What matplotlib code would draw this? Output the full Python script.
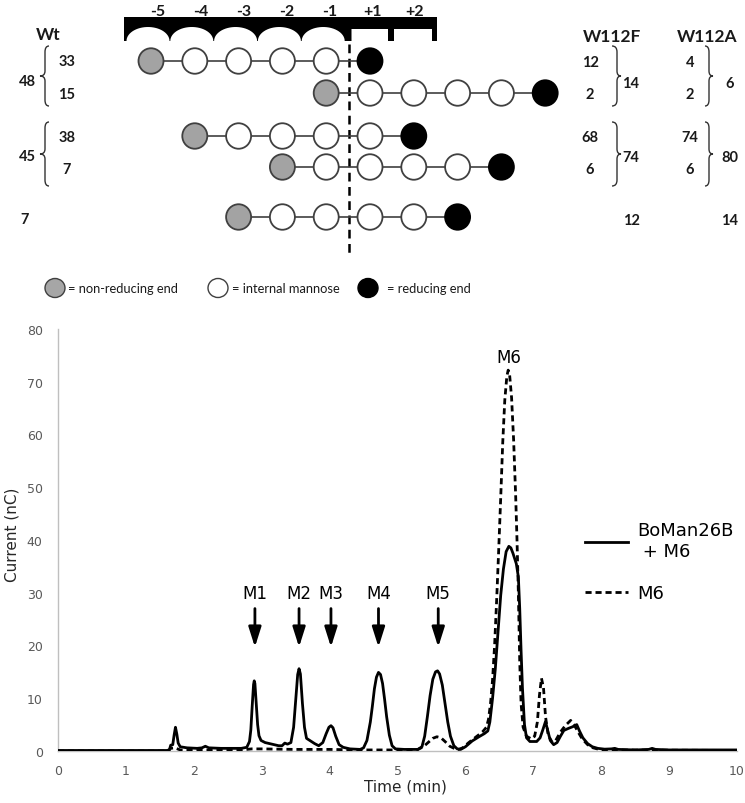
import numpy as np
import matplotlib
matplotlib.use("Agg")
import matplotlib.pyplot as plt
from matplotlib.patches import Ellipse, Polygon, PathPatch
from matplotlib.path import Path

# ------------------------------------------------------------------ data
# BoMan26B + M6 (solid) chromatogram
time_mix = [0.00, 1.60, 1.64, 1.66, 1.69, 1.71, 1.73, 1.75, 1.77, 1.80,
            1.90, 2.05, 2.12, 2.17, 2.22, 2.40, 2.70, 2.78, 2.82, 2.84,
            2.86, 2.88, 2.89, 2.90, 2.92, 2.94, 2.96, 2.99, 3.05, 3.15,
            3.25, 3.30, 3.34, 3.38, 3.43, 3.47, 3.50, 3.53, 3.55, 3.57,
            3.60, 3.63, 3.66, 3.72, 3.78, 3.84, 3.90, 3.95, 3.99, 4.02,
            4.05, 4.09, 4.14, 4.20, 4.30, 4.45, 4.50, 4.55, 4.60, 4.63,
            4.66, 4.69, 4.72, 4.75, 4.78, 4.81, 4.84, 4.88, 4.92, 4.97,
            5.10, 5.30, 5.36, 5.40, 5.44, 5.48, 5.52, 5.56, 5.59, 5.62,
            5.66, 5.70, 5.74, 5.78, 5.83, 5.88, 5.93, 6.00, 6.10, 6.20,
            6.28, 6.33, 6.36, 6.40, 6.44, 6.48, 6.52, 6.56, 6.60, 6.64,
            6.67, 6.70, 6.75, 6.78, 6.80, 6.82, 6.84, 6.87, 6.90, 6.95,
            7.05, 7.10, 7.14, 7.18, 7.21, 7.25, 7.30, 7.35, 7.40, 7.45,
            7.52, 7.58, 7.64, 7.68, 7.73, 7.80, 7.87, 7.95, 8.05, 8.15,
            8.20, 8.25, 8.50, 8.70, 8.75, 8.80, 9.00, 9.50, 10.00]
current_mix = [0.1, 0.1, 0.2, 1.1, 1.2, 3.0, 4.5, 3.2, 1.5, 0.8,
               0.6, 0.5, 0.6, 0.9, 0.6, 0.5, 0.5, 0.7, 1.8, 4.0,
               8.5, 12.6, 13.3, 12.8, 9.0, 5.0, 2.9, 2.0, 1.6, 1.3,
               1.0, 1.0, 1.5, 1.3, 1.6, 4.5, 9.5, 14.5, 15.6, 14.6,
               9.0, 4.5, 2.4, 1.9, 1.4, 1.0, 1.6, 3.3, 4.5, 4.8,
               4.4, 2.8, 1.2, 0.7, 0.4, 0.3, 0.6, 2.0, 5.5, 8.5,
               11.8, 14.0, 14.9, 14.5, 12.8, 9.8, 6.5, 3.0, 1.0, 0.4,
               0.3, 0.3, 0.8, 2.8, 6.5, 10.5, 13.6, 15.0, 15.2, 14.6,
               12.5, 9.0, 5.5, 2.8, 1.0, 0.4, 0.3, 0.8, 1.9, 2.7,
               3.3, 3.8, 5.5, 10.0, 15.5, 22.5, 29.5, 34.5, 37.8, 38.8,
               38.5, 37.5, 35.5, 33.0, 27.0, 19.0, 12.0, 5.0, 2.5, 1.8,
               1.8, 2.5, 4.0, 5.6, 4.0, 2.0, 1.2, 1.6, 2.8, 3.9,
               4.3, 4.6, 5.0, 3.8, 2.5, 1.4, 0.8, 0.5, 0.35, 0.4,
               0.5, 0.3, 0.2, 0.3, 0.5, 0.3, 0.2, 0.2, 0.2]

# M6 standard (dashed) chromatogram
time_m6 = [0.00, 1.62, 1.66, 1.72, 1.80, 2.00, 2.70, 2.85, 3.00, 3.50,
           4.00, 4.50, 5.00, 5.30, 5.38, 5.45, 5.52, 5.58, 5.64, 5.70,
           5.77, 5.85, 5.90, 5.96, 6.05, 6.15, 6.25, 6.31, 6.34, 6.37,
           6.40, 6.43, 6.46, 6.49, 6.52, 6.55, 6.58, 6.61, 6.63, 6.65,
           6.68, 6.71, 6.74, 6.76, 6.78, 6.80, 6.82, 6.85, 6.90, 6.97,
           7.02, 7.06, 7.09, 7.12, 7.15, 7.18, 7.22, 7.28, 7.33, 7.40,
           7.47, 7.55, 7.60, 7.66, 7.72, 7.80, 7.88, 7.97, 8.10, 10.00]
current_m6 = [0.0, 0.0, 0.5, 0.6, 0.2, 0.1, 0.2, 0.4, 0.4, 0.3,
              0.3, 0.2, 0.2, 0.3, 0.8, 1.6, 2.4, 2.7, 2.5, 1.8,
              0.9, 0.4, 0.3, 0.6, 1.6, 2.6, 3.6, 4.5, 6.0, 9.0,
              13.5, 20.0, 28.5, 38.0, 48.0, 58.5, 66.5, 71.0, 72.2, 71.5,
              67.0, 59.0, 48.5, 40.0, 30.0, 17.0, 9.0, 4.5, 2.8, 2.3,
              2.8, 5.5, 10.5, 13.8, 12.0, 6.5, 3.0, 1.6, 2.0, 3.6,
              4.8, 5.8, 5.0, 3.6, 2.3, 1.2, 0.6, 0.3, 0.2, 0.1]

peak_labels = ["M1", "M2", "M3", "M4", "M5"]
peak_times = [2.90, 3.55, 4.02, 4.72, 5.60]
m6_label = "M6"
m6_time = 6.64
series_labels = ["BoMan26B\n + M6", "M6"]
x_ticks = list(range(0, 11))
y_ticks = list(range(0, 81, 10))

# binding-mode diagram
subsite_labels = ["-5", "-4", "-3", "-2", "-1", "+1", "+2"]
mode_start = [0, 4, 1, 3, 2]       # slot of the non-reducing end
mode_length = [6, 6, 6, 6, 6]      # M6: six mannose units
wt_counts = ["33", "15", "38", "7"]
wt_groups = ["48", "45"]
wt_single = "7"
w112f_counts = ["12", "2", "68", "6"]
w112f_groups = ["14", "74"]
w112f_single = "12"
w112a_counts = ["4", "2", "74", "6"]
w112a_groups = ["6", "80"]
w112a_single = "14"
variant_names = ["Wt", "W112F", "W112A"]
legend_texts = ["= non-reducing end", "= internal mannose", "= reducing end"]

# ------------------------------------------------------------------ figure
W, H = 745, 804
fig = plt.figure(figsize=(W / 100, H / 100), dpi=100)
fig.patch.set_facecolor("white")

# ---------------- chromatogram axes
ax = fig.add_axes([58 / W, (H - 752) / H, (737 - 58) / W, (752 - 330) / H])
ax.set_xlim(0, 10)
ax.set_ylim(0, 80)
for s in ("top", "right"):
    ax.spines[s].set_visible(False)
for s in ("left", "bottom"):
    ax.spines[s].set_color("#bfbfbf")
    ax.spines[s].set_linewidth(1.0)
ax.set_xticks(x_ticks)
ax.set_yticks(y_ticks)
ax.tick_params(axis="both", length=0, labelsize=9, labelcolor="#595959")
ax.tick_params(axis="x", pad=9.5)
ax.tick_params(axis="y", pad=11)

l1, = ax.plot(time_mix, current_mix, color="black", lw=2.0,
              solid_joinstyle="round", zorder=4)
l2, = ax.plot(time_m6, current_m6, color="black", lw=2.0,
              ls=(0, (2.2, 1.4)), zorder=3)

ax.set_xlabel("Time (min)", fontsize=11, color="#262626")
ax.set_ylabel("Current (nC)", fontsize=11, color="#262626")
ax.xaxis.set_label_coords(0.511, -0.066)
ax.yaxis.set_label_coords(-0.057, 0.514)

for lab, t in zip(peak_labels, peak_times):
    ax.annotate("", xy=(t, 19.7), xytext=(t, 27.0),
                arrowprops=dict(arrowstyle="-|>,head_length=1.2,head_width=0.38",
                                color="black", lw=2.0, shrinkA=0, shrinkB=0,
                                mutation_scale=10))
    ax.text(t, 29.9, lab, ha="center", va="center", fontsize=12, color="black")
ax.text(m6_time, 74.6, m6_label, ha="center", va="center", fontsize=12,
        color="black")

leg = ax.legend([l1, l2], series_labels, loc="upper left",
                bbox_to_anchor=(585 / W, (H - 522.5) / H),
                bbox_transform=fig.transFigure, frameon=False, fontsize=13,
                handlelength=2.38, handletextpad=0.5, labelspacing=1.33,
                borderpad=0, borderaxespad=0)

# ---------------- diagram overlay (pixel coordinates)
ov = fig.add_axes([0, 0, 1, 1])
ov.set_xlim(0, W)
ov.set_ylim(H, 0)
ov.axis("off")
ov.patch.set_alpha(0)

BOLD = dict(family=["Lato", "DejaVu Sans"], fontweight="bold", color="#1a1a1a")
REG = dict(family=["Lato", "DejaVu Sans"], color="#1a1a1a")

slot_x0, slot_dx = 151.0, 43.8
row_y = [62, 94, 137, 168, 218]

# subsite bar
bar_top, bar_bot, arc_top = 18, 42, 28
verts = [(124, bar_top), (437, bar_top), (437, bar_bot), (432, bar_bot),
         (432, 30), (394, 30), (394, bar_bot), (388, bar_bot), (388, 30),
         (351.5, 30), (351.5, bar_bot)]
arc_centres = [slot_x0 + k * slot_dx - 3 for k in range(5)][::-1]
th = np.linspace(0, np.pi, 30)
for c in arc_centres:
    xs = c + 21.5 * np.cos(th)
    ys = bar_bot - (bar_bot - arc_top) * np.sin(th)
    verts += list(zip(xs, ys))
verts += [(124, bar_bot)]
ov.add_patch(Polygon(verts, closed=True, facecolor="black", edgecolor="none"))

for i, lab in enumerate(subsite_labels):
    ov.text(158 + 42.8 * i, 12, lab, ha="center", va="center", fontsize=11.5,
            **BOLD)

# dashed cleavage line
ov.plot([348.5, 348.5], [45, 258], color="black", lw=1.8,
        ls=(0, (3.5, 2.2)), zorder=1)

# binding modes
for r, (st, n) in enumerate(zip(mode_start, mode_length)):
    y = row_y[r]
    xs = [slot_x0 + (st + k) * slot_dx for k in range(n)]
    ov.plot([xs[0], xs[-1]], [y, y], color="#404040", lw=1.2, zorder=2)
    for k, x in enumerate(xs):
        if k == 0:
            fc, ec = "#a3a3a3", "#404040"
        elif k == n - 1:
            fc, ec = "black", "black"
        else:
            fc, ec = "white", "#404040"
        ov.add_patch(Ellipse((x, y), 25, 25.5, facecolor=fc, edgecolor=ec,
                             lw=1.3, zorder=3))


def brace(x_end, x_stem, x_tip, y0, y1):
    ym = (y0 + y1) / 2
    codes = [Path.MOVETO, Path.CURVE3, Path.CURVE3, Path.LINETO,
             Path.CURVE3, Path.CURVE3, Path.CURVE3, Path.CURVE3,
             Path.LINETO, Path.CURVE3, Path.CURVE3]
    pts = [(x_end, y0), (x_stem, y0), (x_stem, y0 + 6),
           (x_stem, ym - 5), (x_stem, ym), (x_tip, ym),
           (x_stem, ym), (x_stem, ym + 5),
           (x_stem, y1 - 6), (x_stem, y1), (x_end, y1)]
    ov.add_patch(PathPatch(Path(pts, codes), facecolor="none",
                           edgecolor="#333333", lw=1.0))


NS = 10.5
# Wt column
ov.text(48, 35, variant_names[0], ha="center", va="center", fontsize=12.5,
        **BOLD)
ov.text(67, row_y[0], wt_counts[0], ha="center", va="center", fontsize=NS, **BOLD)
ov.text(67, 95, wt_counts[1], ha="center", va="center", fontsize=NS, **BOLD)
ov.text(67, 138, wt_counts[2], ha="center", va="center", fontsize=NS, **BOLD)
ov.text(67, 170, wt_counts[3], ha="center", va="center", fontsize=NS, **BOLD)
ov.text(27, 82, wt_groups[0], ha="center", va="center", fontsize=NS, **BOLD)
ov.text(27, 157, wt_groups[1], ha="center", va="center", fontsize=NS, **BOLD)
ov.text(25, 220, wt_single, ha="center", va="center", fontsize=NS, **BOLD)
brace(49, 45, 40, 47, 107)
brace(49, 45, 40, 123, 187)

# W112F column
ov.text(612, 37, variant_names[1], ha="center", va="center", fontsize=12.5,
        **BOLD)
ov.text(590, 63, w112f_counts[0], ha="center", va="center", fontsize=NS, **BOLD)
ov.text(590, 95, w112f_counts[1], ha="center", va="center", fontsize=NS, **BOLD)
ov.text(590, 138, w112f_counts[2], ha="center", va="center", fontsize=NS, **BOLD)
ov.text(590, 170, w112f_counts[3], ha="center", va="center", fontsize=NS, **BOLD)
ov.text(631, 84, w112f_groups[0], ha="center", va="center", fontsize=NS, **BOLD)
ov.text(631, 158, w112f_groups[1], ha="center", va="center", fontsize=NS, **BOLD)
ov.text(631, 221, w112f_single, ha="center", va="center", fontsize=NS, **BOLD)
brace(612, 617, 621, 47, 107)
brace(612, 617, 621, 123, 187)

# W112A column
ov.text(707, 37, variant_names[2], ha="center", va="center", fontsize=12.5,
        **BOLD)
ov.text(690, 63, w112a_counts[0], ha="center", va="center", fontsize=NS, **BOLD)
ov.text(690, 95, w112a_counts[1], ha="center", va="center", fontsize=NS, **BOLD)
ov.text(690, 138, w112a_counts[2], ha="center", va="center", fontsize=NS, **BOLD)
ov.text(690, 170, w112a_counts[3], ha="center", va="center", fontsize=NS, **BOLD)
ov.text(730, 84, w112a_groups[0], ha="center", va="center", fontsize=NS, **BOLD)
ov.text(730, 158, w112a_groups[1], ha="center", va="center", fontsize=NS, **BOLD)
ov.text(730, 221, w112a_single, ha="center", va="center", fontsize=NS, **BOLD)
brace(705, 709, 713, 47, 107)
brace(705, 709, 713, 123, 187)

# symbol legend
leg_y = 289
for cx, fc, tx, txt in zip([55, 218, 368], ["#a6a6a6", "white", "black"],
                           [68, 232, 387], legend_texts):
    ov.add_patch(Ellipse((cx, leg_y), 20, 19, facecolor=fc,
                         edgecolor="#404040" if fc != "black" else "black",
                         lw=1.0))
    ov.text(tx, leg_y, txt, ha="left", va="center", fontsize=9.3, **REG)

fig.savefig("out.png", dpi=100, facecolor="white")
